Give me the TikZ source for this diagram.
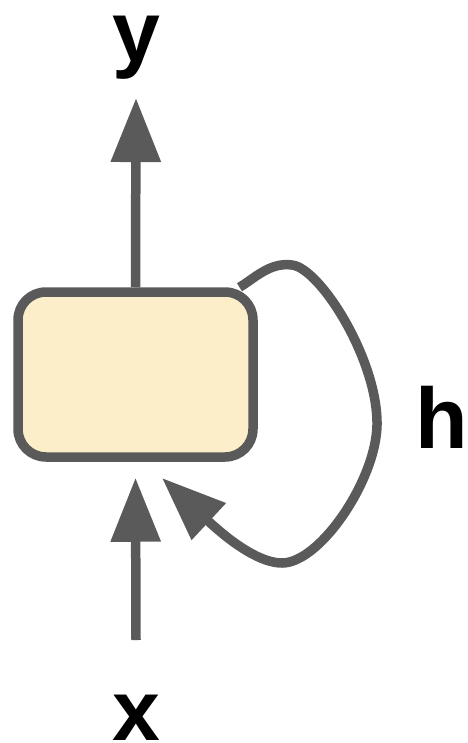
\documentclass[tikz,border=0pt]{standalone}
\usepackage{fontspec}
\setmainfont{Liberation Sans}
\usepackage{tikz}
\usetikzlibrary{arrows.meta,positioning,calc}
\usepackage{xcolor}
\definecolor{cellfill}{RGB}{252,238,200}
\definecolor{wire}{RGB}{90,90,90}

\begin{document}
\begin{tikzpicture}[x=1pt,y=-1pt,>={Triangle[length=64pt,width=48pt]},
  lbl/.style={anchor=base,inner sep=0pt,font=\fontsize{86}{86}\selectfont\bfseries},
  flow/.style={draw=wire,line width=9.5pt,->}]
\useasboundingbox (0,0) rectangle (467,743);
\node[draw=wire,fill=cellfill,line width=9.5pt,rounded corners=28pt,
      minimum width=235pt,minimum height=165pt] (cell) at (135.5,374.5) {};
\node[lbl] (ylab) at (136,62) {y};
\node[lbl] (xlab) at (136,740) {x};
\node[lbl] (hlab) at (442,448) {h};
\coordinate (xin) at (136,640);
\coordinate (hin) at (162,478);
\draw[flow] (cell.north) -- ([yshift=-18pt]ylab.south);
\draw[flow] (xin) -- ([yshift=-16pt]cell.south);
\draw[flow] (cell.40) .. controls (255,278) and (270,262) .. (292,265)
  .. controls (320,268) and (378,360) .. (377,425)
  .. controls (376,480) and (320,563) .. (282,563)
  .. controls (262,563) and (235,546) .. (hin);
\end{tikzpicture}
\end{document}
